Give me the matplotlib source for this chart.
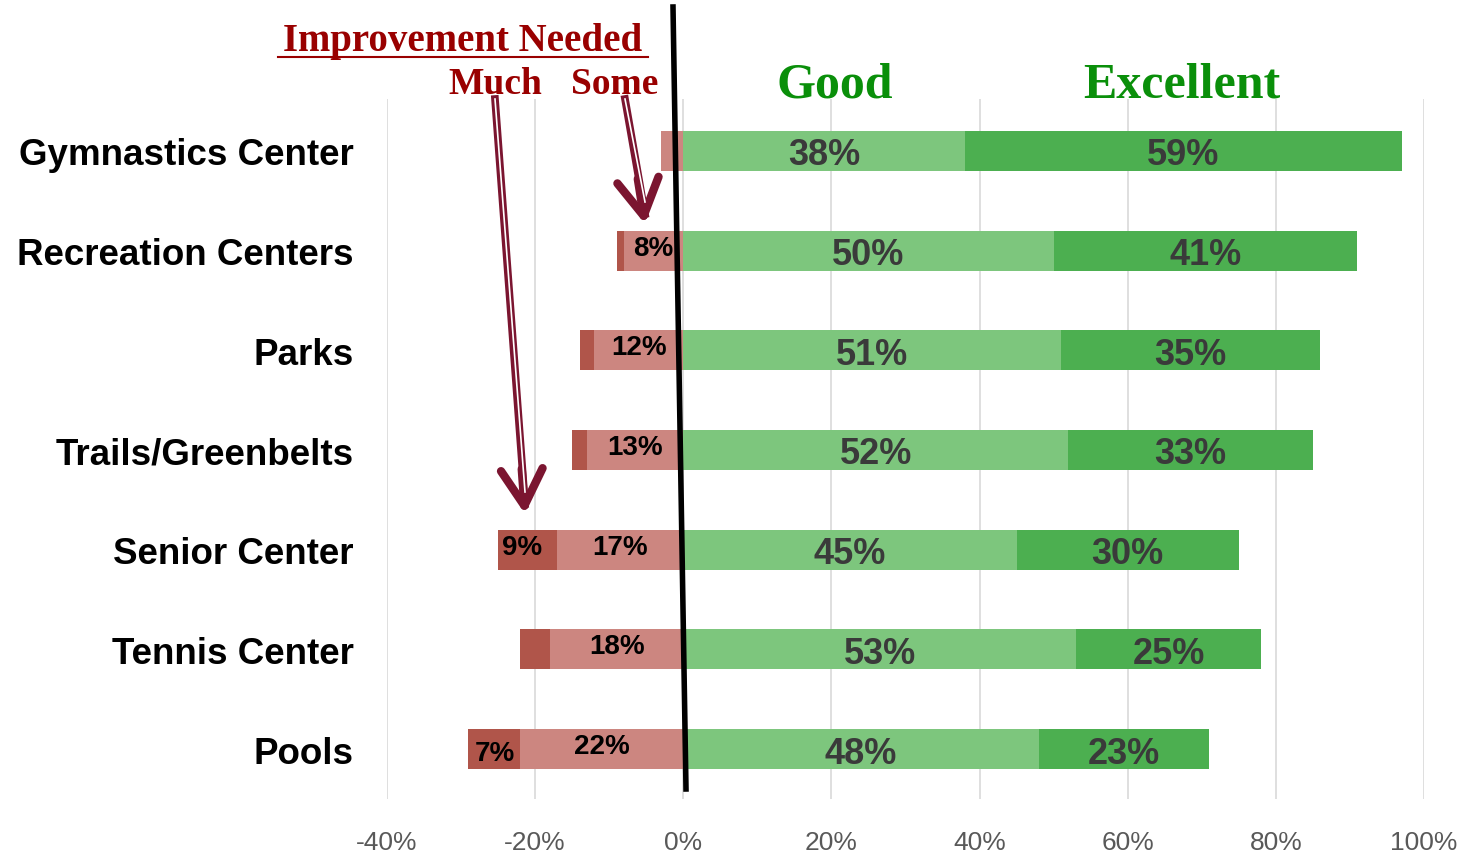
import numpy as np
import matplotlib.pyplot as plt
from matplotlib.lines import Line2D

categories = ["Gymnastics Center", "Recreation Centers", "Parks", "Trails/Greenbelts",
              "Senior Center", "Tennis Center", "Pools"]
much = [0, 1, 2, 2, 8, 4, 7]
some = [3, 8, 12, 13, 17, 18, 22]
good = [38, 50, 51, 52, 45, 53, 48]
excellent = [59, 41, 35, 33, 30, 25, 23]
much_labels = ["", "", "", "", "9%", "", "7%"]
some_labels = ["", "8%", "12%", "13%", "17%", "18%", "22%"]
ticks = [-40, -20, 0, 20, 40, 60, 80, 100]

W, H = 1463, 854
plt.rcParams['font.family'] = ['Liberation Sans', 'DejaVu Sans']
fig = plt.figure(figsize=(W / 100, H / 100), dpi=100)
ax = fig.add_axes([387 / W, 1 - 800 / H, (1424 - 387) / W, 700 / H])

y = np.arange(len(categories))
bh = 0.4
c_much, c_some = "#b0554a", "#cc8680"
c_good, c_exc = "#7dc67d", "#4caf50"

some_arr = np.array(some)
much_arr = np.array(much)
ax.barh(y, -some_arr, height=bh, color=c_some, zorder=2)
ax.barh(y, -much_arr, left=-some_arr, height=bh, color=c_much, zorder=2)
ax.barh(y, good, height=bh, color=c_good, zorder=2)
ax.barh(y, excellent, left=good, height=bh, color=c_exc, zorder=2)

for i in range(len(categories)):
    ax.text(good[i] / 2, y[i] + 0.04, f"{good[i]}%", ha="center", va="center",
            fontsize=26, fontweight="bold", color="#3a3a3a", zorder=3)
    ax.text(good[i] + excellent[i] / 2, y[i] + 0.04, f"{excellent[i]}%", ha="center",
            va="center", fontsize=26, fontweight="bold", color="#3a3a3a", zorder=3)
    if some_labels[i]:
        ax.text(-some[i] / 2, y[i] - 0.03, some_labels[i], ha="center", va="center",
                fontsize=20, fontweight="bold", color="black", zorder=3)
    if much_labels[i]:
        ax.text(-some[i] - much[i] / 2 - (0.7 if i == 4 else 0),
                y[i] + (0.04 if i == 6 else -0.03),
                much_labels[i], ha="center", va="center",
                fontsize=20, fontweight="bold", color="black", zorder=3)

ax.set_xlim(-40, 100)
ax.set_ylim(6.5, -0.52)
ax.set_xticks(ticks)
ax.set_xticklabels([f"{t}%" for t in ticks], fontsize=19, color="#595959")
ax.set_yticks(y)
ax.set_yticklabels(categories, fontsize=26.5, fontweight="bold")
ax.tick_params(axis="x", length=0, pad=22)
ax.tick_params(axis="y", length=0, pad=24)
ax.grid(axis="x", color="#d9d9d9", linewidth=1.2, zorder=0)
ax.set_axisbelow(True)
for s in ax.spines.values():
    s.set_visible(False)

# header text
def fx(px):
    return px / W

def fy(py):
    return 1 - py / H

serif = ["Liberation Serif", "DejaVu Serif"]
fig.text(fx(463), fy(42), "Improvement Needed", ha="center", va="center",
         fontsize=28, fontweight="bold", color="#990000", family=serif)
fig.add_artist(Line2D([fx(278), fx(648)], [fy(58), fy(58)], color="#990000", lw=1.5))
fig.text(fx(495), fy(84), "Much", ha="center", va="center",
         fontsize=27, fontweight="bold", color="#990000", family=serif)
fig.text(fx(615), fy(84), "Some", ha="center", va="center",
         fontsize=27, fontweight="bold", color="#990000", family=serif)
fig.text(fx(835), fy(85), "Good", ha="center", va="center",
         fontsize=36, fontweight="bold", color="#0a8f0a", family=serif)
fig.text(fx(1182), fy(85), "Excellent", ha="center", va="center",
         fontsize=36, fontweight="bold", color="#0a8f0a", family=serif)

# slanted zero line
fig.add_artist(Line2D([fx(673), fx(686)], [fy(8), fy(790)], color="black", lw=4, zorder=5))

# arrows
arrow_col = "#7b1530"
for (x0, y0, x1, y1) in [(495, 100, 525, 515), (625, 100, 645, 225)]:
    fig.add_artist(Line2D([fx(x0), fx(x1)], [fy(y0), fy(y1 - 10)], color=arrow_col, lw=5.5, zorder=6))
    fig.add_artist(Line2D([fx(x0), fx(x1)], [fy(y0), fy(y1 - 22)], color="white", lw=1.2, zorder=7))
    dx = (x1 - x0) / (y1 - y0)
    ax.annotate("", xy=(fx(x1), fy(y1)), xytext=(fx(x1 - dx * 45), fy(y1 - 45)),
                xycoords="figure fraction", textcoords="figure fraction",
                arrowprops=dict(arrowstyle="->,head_length=2.6,head_width=1.5",
                                color=arrow_col, lw=6, capstyle="round",
                                joinstyle="round", shrinkA=0, shrinkB=0),
                zorder=8, annotation_clip=False)

fig.savefig("out.png", dpi=100)
